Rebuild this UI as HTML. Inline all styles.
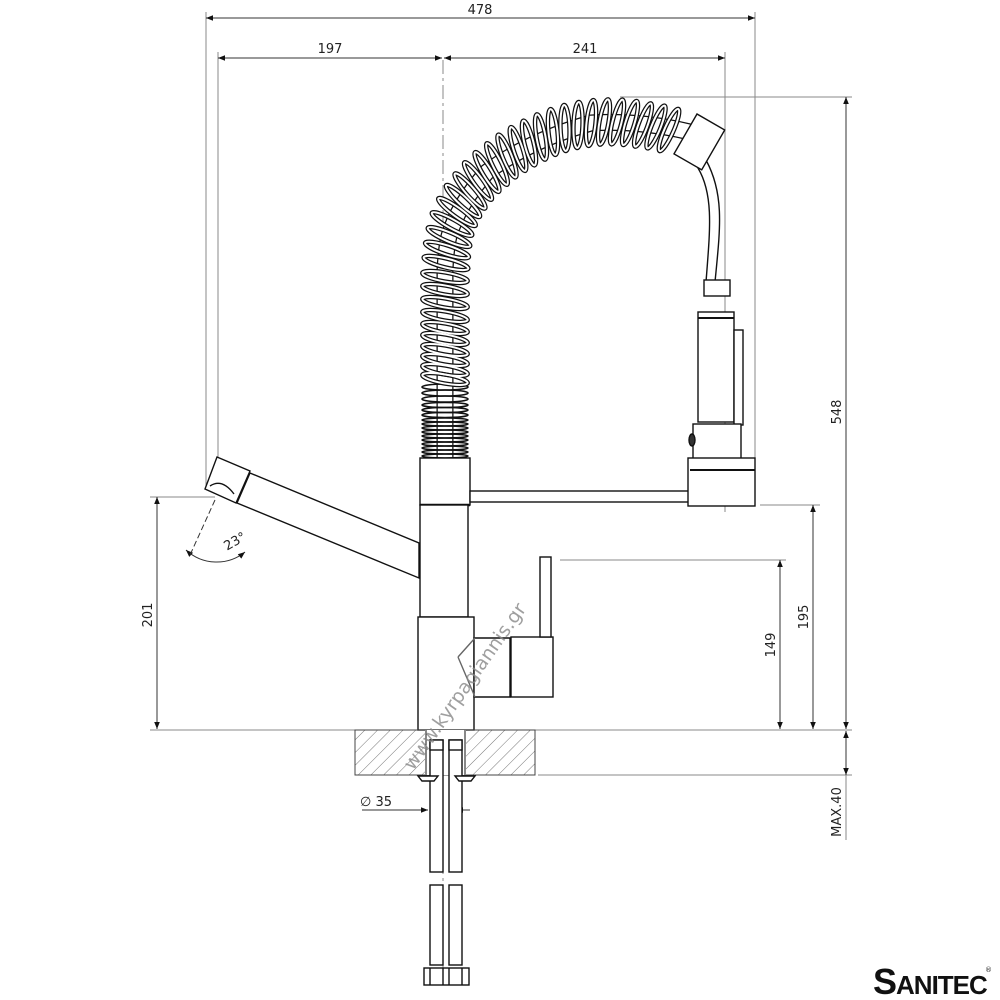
<!DOCTYPE html>
<html><head><meta charset="utf-8"><style>
html,body{margin:0;padding:0;background:#fff}
svg{display:block}
text{font-family:"DejaVu Sans","Liberation Sans",sans-serif;font-size:13px;fill:#222}
</style></head><body>
<svg width="1000" height="1000" viewBox="0 0 1000 1000" xmlns="http://www.w3.org/2000/svg">
<defs>
<marker id="a" viewBox="0 0 10 10" refX="10" refY="5" markerWidth="9" markerHeight="7" orient="auto-start-reverse"><path d="M0,1 L10,5 L0,9 z" fill="#111"/></marker>
<pattern id="h" width="9" height="9" patternUnits="userSpaceOnUse" patternTransform="rotate(45)"><line x1="0" y1="0" x2="0" y2="9" stroke="#777" stroke-width="1"/></pattern>
</defs>
<g stroke="#888" stroke-width="1" fill="none">
<line x1="206" y1="12" x2="206" y2="488"/>
<line x1="755" y1="12" x2="755" y2="470"/>
<line x1="218" y1="52" x2="218" y2="462"/>
<line x1="725" y1="52" x2="725" y2="512"/>
<line x1="620" y1="97" x2="852" y2="97"/>
<line x1="760" y1="505" x2="820" y2="505"/>
<line x1="560" y1="560" x2="786" y2="560"/>
<line x1="150" y1="497" x2="215" y2="497"/>
<line x1="150" y1="730" x2="852" y2="730"/>
<line x1="538" y1="775" x2="852" y2="775"/>
<line x1="846" y1="775" x2="846" y2="840"/>
</g>
<g stroke="#333" stroke-width="1" fill="none">
<line x1="206" y1="18" x2="755" y2="18" marker-start="url(#a)" marker-end="url(#a)"/>
<line x1="218" y1="58" x2="442" y2="58" marker-start="url(#a)" marker-end="url(#a)"/>
<line x1="444" y1="58" x2="725" y2="58" marker-start="url(#a)" marker-end="url(#a)"/>
<line x1="846" y1="97" x2="846" y2="729" marker-start="url(#a)" marker-end="url(#a)"/>
<line x1="813" y1="505" x2="813" y2="729" marker-start="url(#a)" marker-end="url(#a)"/>
<line x1="780" y1="560" x2="780" y2="729" marker-start="url(#a)" marker-end="url(#a)"/>
<line x1="846" y1="731" x2="846" y2="775" marker-start="url(#a)" marker-end="url(#a)"/>
<line x1="157" y1="497" x2="157" y2="729" marker-start="url(#a)" marker-end="url(#a)"/>
<line x1="362" y1="810" x2="428" y2="810" marker-end="url(#a)"/>
<line x1="470" y1="810" x2="456" y2="810" marker-end="url(#a)"/>
<path d="M186,550 A45,45 0 0 0 245,552" marker-start="url(#a)" marker-end="url(#a)"/>
<line x1="215" y1="500" x2="190" y2="555" stroke-dasharray="6,3"/>
</g>
<text x="480" y="14" text-anchor="middle">478</text>
<text x="330" y="53" text-anchor="middle">197</text>
<text x="585" y="53" text-anchor="middle">241</text>
<text transform="translate(841,412) rotate(-90)" text-anchor="middle">548</text>
<text transform="translate(808,617) rotate(-90)" text-anchor="middle">195</text>
<text transform="translate(775,645) rotate(-90)" text-anchor="middle">149</text>
<text transform="translate(152,615) rotate(-90)" text-anchor="middle">201</text>
<text transform="translate(841,812) rotate(-90)" text-anchor="middle">MAX.40</text>
<text x="360" y="806">∅ 35</text>
<text transform="translate(237,545) rotate(-30)" text-anchor="middle">23°</text>
<line x1="443" y1="60" x2="443" y2="980" stroke="#888" stroke-dasharray="14,4,3,4"/>

<!-- inner hose -->
<path d="M445,458 L445,270 Q446,249 449,236 Q458,205 487,172 Q530,140 591,123 Q640,120 690,132" fill="none" stroke="#111" stroke-width="17"/>
<path d="M445,458 L445,270 Q446,249 449,236 Q458,205 487,172 Q530,140 591,123 Q640,120 690,132" fill="none" stroke="#fff" stroke-width="14.5"/>
<!-- tight coils -->
<g stroke="#111" stroke-width="1.6" fill="none">
<ellipse cx="445" cy="456" rx="23" ry="2"/><ellipse cx="445" cy="452" rx="23" ry="2"/><ellipse cx="445" cy="448" rx="23" ry="2"/><ellipse cx="445" cy="444" rx="23" ry="2"/><ellipse cx="445" cy="440" rx="23" ry="2"/><ellipse cx="445" cy="436" rx="23" ry="2"/><ellipse cx="445" cy="432" rx="23" ry="2"/><ellipse cx="445" cy="428" rx="23" ry="2"/><ellipse cx="445" cy="424" rx="23" ry="2"/><ellipse cx="445" cy="420" rx="23" ry="2"/><ellipse cx="445" cy="415" rx="23" ry="2.5"/><ellipse cx="445" cy="410" rx="23" ry="2.5"/><ellipse cx="445" cy="405" rx="23" ry="2.5"/><ellipse cx="445" cy="399" rx="23" ry="3"/><ellipse cx="445" cy="393" rx="23" ry="3"/><ellipse cx="445" cy="387" rx="23" ry="3"/>
</g>
<!-- loose coils -->
<g stroke="#111" stroke-width="4.5" fill="none">
<g id="c">
<ellipse cx="445" cy="379" rx="4.5" ry="23" transform="rotate(-80 445 379)"/>
<ellipse cx="445" cy="370" rx="4.5" ry="23" transform="rotate(-80 445 370)"/>
<ellipse cx="445" cy="360" rx="4.5" ry="23" transform="rotate(-80 445 360)"/>
<ellipse cx="445" cy="350" rx="4.5" ry="23" transform="rotate(-80 445 350)"/>
<ellipse cx="445" cy="339" rx="4.5" ry="23" transform="rotate(-80 445 339)"/>
<ellipse cx="445" cy="328" rx="4.5" ry="23" transform="rotate(-80 445 328)"/>
<ellipse cx="445" cy="316" rx="4.5" ry="23" transform="rotate(-80 445 316)"/>
<ellipse cx="445" cy="303" rx="4.5" ry="23" transform="rotate(-80 445 303)"/>
<ellipse cx="445" cy="290" rx="4.5" ry="23" transform="rotate(-80 445 290)"/>
<ellipse cx="445" cy="277" rx="4.5" ry="23" transform="rotate(-80 445 277)"/>
<ellipse cx="446" cy="263" rx="4.5" ry="23" transform="rotate(-76 446 263)"/>
<ellipse cx="447" cy="250" rx="4.5" ry="23" transform="rotate(-72 447 250)"/>
<ellipse cx="449" cy="237" rx="4.5" ry="23" transform="rotate(-67 449 237)"/>
<ellipse cx="452" cy="224" rx="4.5" ry="23" transform="rotate(-61 452 224)"/>
<ellipse cx="457" cy="212" rx="4.5" ry="23" transform="rotate(-54 457 212)"/>
<ellipse cx="463" cy="201" rx="4.5" ry="23" transform="rotate(-47 463 201)"/>
<ellipse cx="470" cy="191" rx="4.5" ry="23" transform="rotate(-41 470 191)"/>
<ellipse cx="478" cy="181" rx="4.5" ry="23" transform="rotate(-36 478 181)"/>
<ellipse cx="487" cy="172" rx="4.5" ry="23" transform="rotate(-31 487 172)"/>
<ellipse cx="497" cy="164" rx="4.5" ry="23" transform="rotate(-26 497 164)"/>
<ellipse cx="507" cy="156" rx="4.5" ry="23" transform="rotate(-22 507 156)"/>
<ellipse cx="518" cy="149" rx="4.5" ry="23" transform="rotate(-18 518 149)"/>
<ellipse cx="529" cy="143" rx="4.5" ry="23" transform="rotate(-14 529 143)"/>
<ellipse cx="541" cy="137" rx="4.5" ry="23" transform="rotate(-10 541 137)"/>
<ellipse cx="553" cy="132" rx="4.5" ry="23" transform="rotate(-6 553 132)"/>
<ellipse cx="565" cy="128" rx="4.5" ry="23" transform="rotate(-2 565 128)"/>
<ellipse cx="578" cy="125" rx="4.5" ry="23" transform="rotate(2 578 125)"/>
<ellipse cx="591" cy="123" rx="4.5" ry="23" transform="rotate(6 591 123)"/>
<ellipse cx="604" cy="122" rx="4.5" ry="23" transform="rotate(10 604 122)"/>
<ellipse cx="617" cy="122" rx="4.5" ry="23" transform="rotate(14 617 122)"/>
<ellipse cx="630" cy="123" rx="4.5" ry="23" transform="rotate(17 630 123)"/>
<ellipse cx="643" cy="125" rx="4.5" ry="23" transform="rotate(20 643 125)"/>
<ellipse cx="656" cy="127" rx="4.5" ry="23" transform="rotate(22 656 127)"/>
<ellipse cx="669" cy="130" rx="4.5" ry="23" transform="rotate(24 669 130)"/>
</g>
</g>
<use href="#c" stroke="#fff" stroke-width="2" fill="none"/>

<g stroke="#111" stroke-width="1.4" fill="#fff">
<path d="M250,473 L419,543 L419,578 L237,503 Z"/>
<path d="M217,457 L250,471 L236,503 L205,489 Z"/>
<path d="M210,486 Q222,478 234,494" fill="none"/>
<rect x="420" y="458" width="50" height="47"/>
<line x1="420" y1="505" x2="470" y2="505" stroke-width="2.5"/>
<rect x="420" y="505" width="48" height="112"/>
<rect x="418" y="617" width="56" height="113"/>
<path d="M474,638 L510,638 L510,697 L474,697 Z"/>
<path d="M458,657 L475,638 M458,657 L475,697" fill="none" stroke="#666"/>
<rect x="511" y="637" width="42" height="60"/>
<rect x="540" y="557" width="11" height="80"/>
<rect x="470" y="491" width="222" height="11"/>
<path d="M706,160 C725,195 720,230 715,282 L706,282 C710,230 714,195 698,168 Z"/>
<rect x="704" y="280" width="26" height="16"/>
<rect x="698" y="312" width="36" height="110"/>
<line x1="698" y1="318" x2="734" y2="318" stroke-width="2"/>
<rect x="734" y="330" width="9" height="95"/>
<rect x="693" y="424" width="48" height="35"/>
<rect x="688" y="458" width="67" height="48"/>
<line x1="690" y1="470" x2="755" y2="470" stroke-width="2"/>
<ellipse cx="692" cy="440" rx="3" ry="6" fill="#333"/>
<rect x="0" y="0" width="32" height="46" transform="translate(697,114) rotate(30)"/>
<rect x="355" y="730" width="180" height="45" fill="url(#h)" stroke="#444" stroke-width="1"/>
<rect x="425" y="730" width="41" height="45" fill="#fff" stroke="none"/>
<line x1="426" y1="730" x2="426" y2="775" stroke-width="1"/>
<line x1="465" y1="730" x2="465" y2="775" stroke-width="1"/>
<rect x="430" y="740" width="13" height="132"/>
<rect x="449" y="740" width="13" height="132"/>
<rect x="430" y="740" width="13" height="10"/>
<rect x="449" y="740" width="13" height="10"/>
<rect x="430" y="885" width="13" height="80"/>
<rect x="449" y="885" width="13" height="80"/>
<rect x="424" y="968" width="45" height="17"/>
<line x1="430" y1="968" x2="430" y2="985"/><line x1="443" y1="968" x2="443" y2="985"/>
<line x1="449" y1="968" x2="449" y2="985"/><line x1="462" y1="968" x2="462" y2="985"/>
<path d="M418,776 L438,776 L434,781 L422,781 Z"/>
<path d="M455,776 L475,776 L471,781 L459,781 Z"/>
</g>
<text transform="translate(470,690) rotate(-55)" text-anchor="middle" style="font-size:19px;fill:#888;opacity:.8">www.kyrpagiannis.gr</text>
<text x="873" y="994" style="font-family:'Liberation Sans',sans-serif;font-size:36px;font-weight:bold;fill:#111;letter-spacing:-1px">S<tspan style="font-size:26px">ANITEC</tspan></text>
<text x="985" y="972" style="font-size:7px">®</text>
</svg>
</body></html>
